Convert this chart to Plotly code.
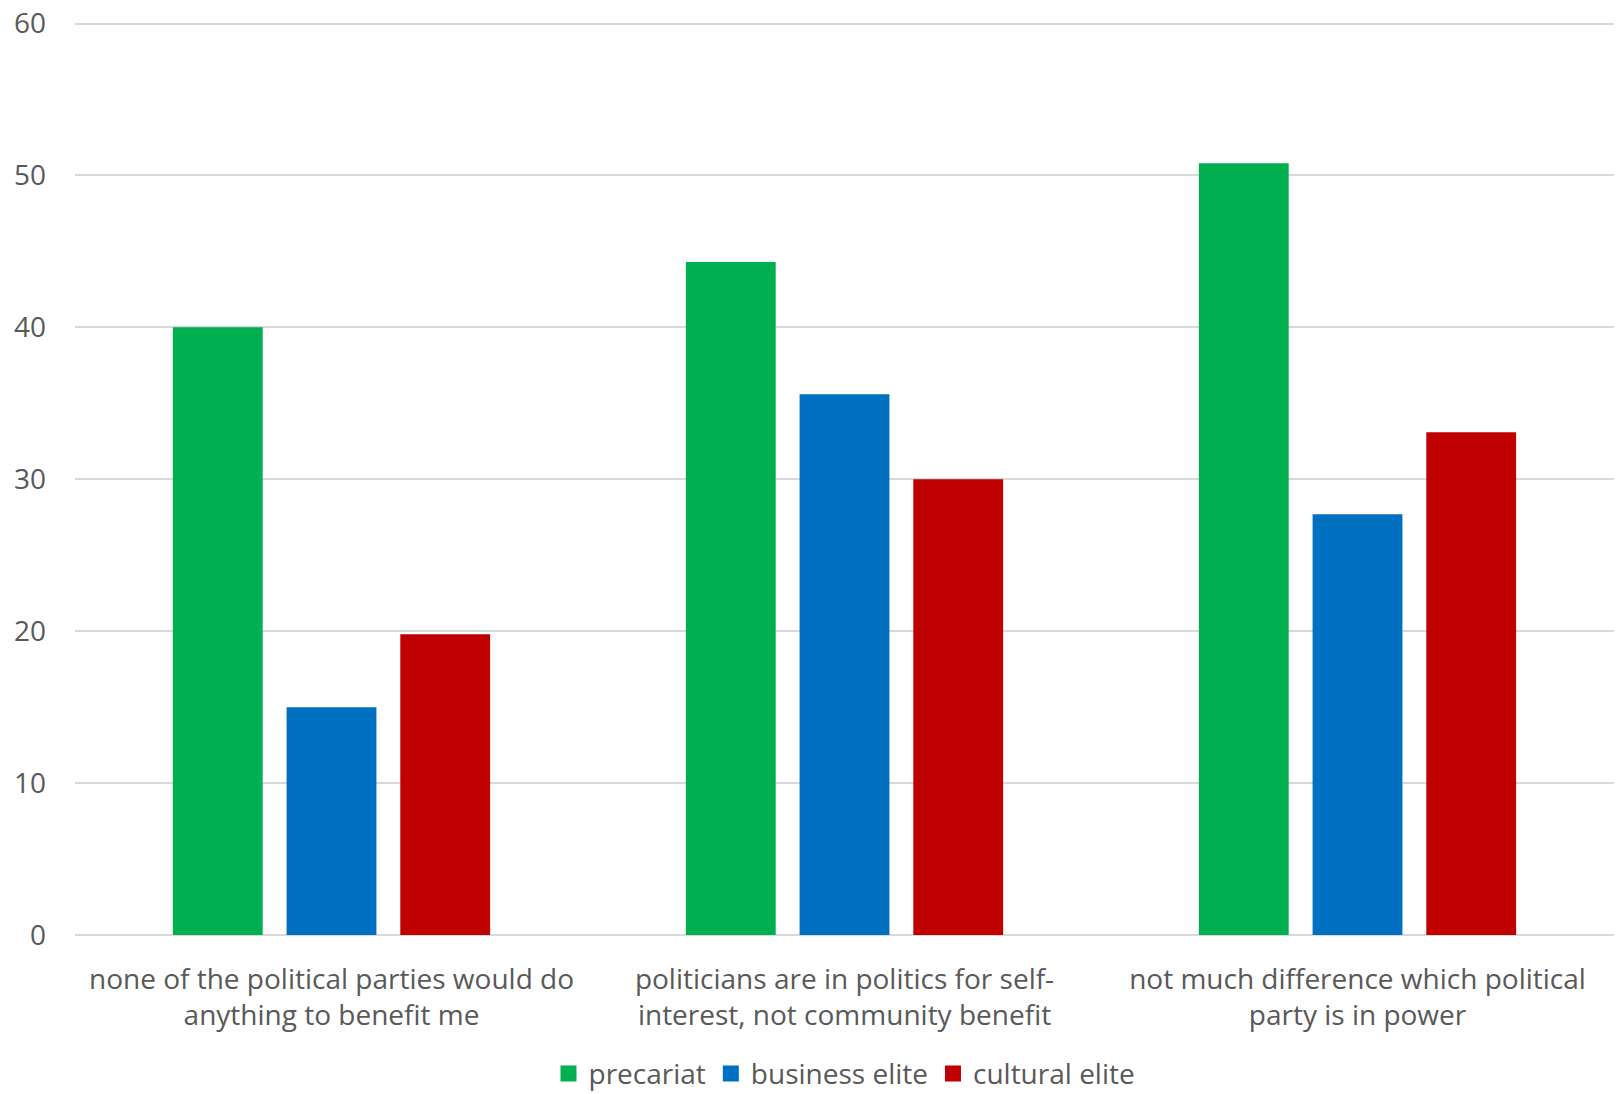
import plotly.graph_objects as go

categories = [
    "none of the political parties would do<br>anything to benefit me",
    "politicians are in politics for self-<br>interest, not community benefit",
    "not much difference which political<br>party is in power",
]
precariat = [40.0, 44.3, 50.8]
business_elite = [15.0, 35.6, 27.7]
cultural_elite = [19.8, 30.0, 33.1]
y_ticks = [0, 10, 20, 30, 40, 50, 60]

series = [
    ("precariat", precariat, "#00b050"),
    ("business elite", business_elite, "#0070c0"),
    ("cultural elite", cultural_elite, "#c00000"),
]

fig = go.Figure()
for name, vals, color in series:
    fig.add_trace(go.Bar(x=categories, y=vals, name=name, showlegend=False,
                         marker=dict(color=color, line=dict(width=0))))
# legend entries with larger square swatches
for name, vals, color in series:
    fig.add_trace(go.Scatter(x=[None], y=[None], mode="markers", name=name,
                             marker=dict(symbol="square", size=20, color=color)))

font_family = "Open Sans, Noto Sans, sans-serif"
fig.update_layout(
    width=1619, height=1094,
    margin=dict(l=75, r=5, t=22, b=159, autoexpand=False),
    paper_bgcolor="white", plot_bgcolor="white",
    barmode="group", bargap=0.335, bargroupgap=0.21,
    font=dict(family=font_family, size=28, color="#595959"),
    showlegend=True,
    legend=dict(orientation="h", x=0.5, xanchor="center", y=-0.152, yanchor="middle",
                font=dict(size=28, color="#595959"), traceorder="normal",
                itemwidth=30),
    xaxis=dict(showgrid=False, showline=False, ticks="", tickfont=dict(size=28),
               ticklabelstandoff=25),
    yaxis=dict(range=[0, 60.1], tickvals=y_ticks, showgrid=True, gridcolor="#d9d9d9",
               gridwidth=1.5, zeroline=True, zerolinecolor="#d9d9d9", zerolinewidth=2,
               showline=False, ticks="", tickfont=dict(size=28), ticklabelstandoff=28,
               ticklabeloverflow="allow"),
)

fig.write_html("out.html",
               config={"displayModeBar": False},
               post_script="document.body.style.margin='0';document.body.style.overflow='hidden';")
